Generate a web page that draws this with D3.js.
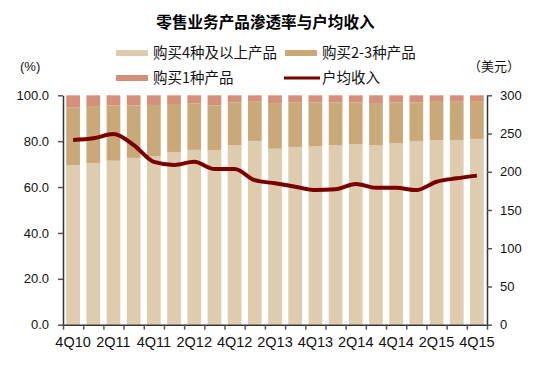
<!DOCTYPE html>
<html><head><meta charset="utf-8">
<script src="https://cdn.jsdelivr.net/npm/d3@7"></script>
<style>
body{margin:0;background:#fff;}
svg{display:block;font-family:"Liberation Sans",Arial,sans-serif;}
</style></head>
<body><svg id="c" width="547" height="365"></svg>
<script>
const categories = ["4Q10","1Q11","2Q11","3Q11","4Q11","1Q12","2Q12","3Q12","4Q12","1Q13","2Q13","3Q13","4Q13","1Q14","2Q14","3Q14","4Q14","1Q15","2Q15","3Q15","4Q15"];
const tickLabels = ["4Q10","2Q11","4Q11","2Q12","4Q12","2Q13","4Q13","2Q14","4Q14","2Q15","4Q15"];
const buy4plus = [69.6,70.5,71.5,72.7,73.5,75.3,76.2,76.0,78.3,80.1,76.7,77.5,77.9,78.3,78.6,78.3,79.2,80.1,80.5,80.5,81.0];
const buy2to3 = [25.2,24.8,24.1,22.9,22.3,20.9,20.3,19.6,18.6,17.1,19.9,19.4,19.0,18.6,18.3,18.3,17.7,16.8,17.0,16.7,16.2];
const buy1 = categories.map((c,i)=>+(100-buy4plus[i]-buy2to3[i]).toFixed(1));
const revenue = [241.5,243.7,249.4,235,213,209,213,203.6,203.6,189,185,180.5,176,177,184,179,179,176,187,191.4,195];
const leftTicks = [0,20,40,60,80,100];
const rightTicks = [0,50,100,150,200,250,300];
const seriesNames = ["购买4种及以上产品","购买2-3种产品","购买1种产品","户均收入"];
const colors = ["#DFCCAE","#C9A97A","#D4907A","#7A0000"];

const svg = d3.select("#c");
const L=63, R=487, T=95.3, B=324.7;
const x = d3.scaleBand().domain(categories).range([L,R]).paddingInner(0.32).paddingOuter(0.16);
const yL = d3.scaleLinear().domain([0,100]).range([B,T]);
const yR = d3.scaleLinear().domain([0,300]).range([B,T]);

// title
svg.append("text").attr("x",265.5).attr("y",28).attr("text-anchor","middle")
  .attr("font-family","'Noto Sans CJK SC',sans-serif").attr("font-weight","bold").attr("font-size",15.6)
  .text("零售业务产品渗透率与户均收入");

// legend
const leg = [
  {x:116,y:53,i:0,type:"rect"},{x:285,y:53,i:1,type:"rect"},
  {x:116,y:78,i:2,type:"rect"},{x:285,y:78,i:3,type:"line"}];
leg.forEach(d=>{
  if(d.type==="rect"){
    svg.append("rect").attr("x",d.x).attr("y",d.y-3).attr("width",32).attr("height",6).attr("fill",colors[d.i]);
  } else {
    svg.append("line").attr("x1",d.x-1).attr("x2",d.x+35).attr("y1",d.y).attr("y2",d.y).attr("stroke",colors[d.i]).attr("stroke-width",3);
  }
  svg.append("text").attr("x",d.x+37).attr("y",d.y+5).attr("font-size",14.5)
    .attr("font-family","'Noto Sans CJK SC',sans-serif").attr("fill","#111").text(seriesNames[d.i]);
});
svg.append("text").attr("x",20).attr("y",71).attr("font-size",13).attr("fill","#111").text("(%)");
svg.append("text").attr("x",468).attr("y",71).attr("font-size",13).attr("fill","#111")
  .attr("font-family","'Noto Sans CJK SC',sans-serif").text("（美元）");

// bars
const stackData = categories.map((c,i)=>({cat:c,a:buy4plus[i],b:buy2to3[i],c1:buy1[i]}));
const stack = d3.stack().keys(["a","b","c1"])(stackData);
svg.append("g").selectAll("g").data(stack).join("g").attr("fill",(d,i)=>colors[i])
  .selectAll("rect").data(d=>d).join("rect")
  .attr("x",d=>x(d.data.cat)).attr("width",x.bandwidth())
  .attr("y",d=>yL(d[1])).attr("height",d=>yL(d[0])-yL(d[1]));

// axes
const axL = svg.append("g").attr("transform",`translate(${L},0)`)
  .call(d3.axisLeft(yL).tickValues(leftTicks).tickFormat(d3.format(".1f")).tickSize(5).tickSizeOuter(0));
const axR = svg.append("g").attr("transform",`translate(${R},0)`)
  .call(d3.axisRight(yR).tickValues(rightTicks).tickSize(5).tickSizeOuter(0));
const xi = d3.scaleLinear().domain([0,categories.length]).range([L,R]);
const axB = svg.append("g").attr("transform",`translate(0,${B})`)
  .call(d3.axisBottom(xi).tickValues(d3.range(0,categories.length+1)).tickFormat("").tickSize(5).tickSizeOuter(0));
const axBL = svg.append("g").attr("transform",`translate(0,${B})`)
  .call(d3.axisBottom(x).tickValues(tickLabels).tickSize(0).tickPadding(12));
axBL.select(".domain").remove();
[axL,axR,axB,axBL].forEach(a=>{
  a.selectAll("text").attr("font-size",13).attr("fill","#111").attr("font-family","'Liberation Sans',Arial,sans-serif");
  a.selectAll("line").attr("stroke","#555").attr("stroke-width",1.5);
  a.select(".domain").attr("stroke","#333").attr("stroke-width",1.5);
});
axBL.selectAll("text").attr("font-size",14.5);
axL.selectAll("text").attr("x",-14);
axR.selectAll("text").attr("x",13);

// line
const line = d3.line().x((d,i)=>x(categories[i])+x.bandwidth()/2).y(d=>yR(d)).curve(d3.curveMonotoneX);
svg.append("path").datum(revenue).attr("d",line).attr("fill","none")
  .attr("stroke",colors[3]).attr("stroke-width",4).attr("stroke-linejoin","round");
</script></body></html>
